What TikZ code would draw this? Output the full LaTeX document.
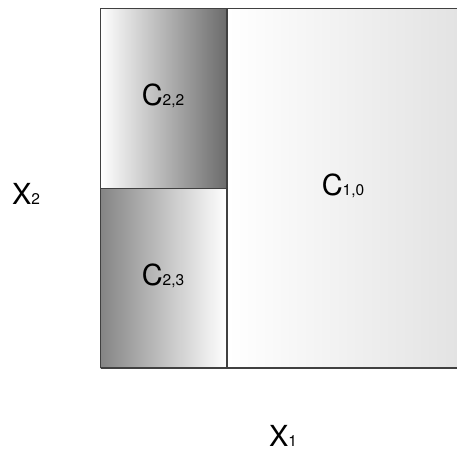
\documentclass[tikz,border=0pt]{standalone}
\usepackage{fontspec}
\setmainfont{TeX Gyre Heros}
\begin{document}
\begin{tikzpicture}[x=1pt,y=-1pt,
  edge/.style={draw=black!75, line width=1.4pt},
  lbl/.style={font=\fontsize{29}{30}\selectfont, inner sep=0pt},
]
\useasboundingbox (0,0) rectangle (456,460);
\definecolor{darkA}{gray}{0.42}
\definecolor{darkB}{gray}{0.52}
\definecolor{lightC}{gray}{0.89}
\shade[left color=white, right color=darkA] (100.5,8.5) rectangle (227,188.5);
\shade[left color=darkB, right color=white] (100.5,188.5) rectangle (227,368);
\shade[left color=white, right color=lightC] (227,8.5) rectangle (458,368);
\coordinate (tl) at (100.5,8.5);
\coordinate (bl) at (100.5,368);
\coordinate (tr) at (458,8.5);
\coordinate (br) at (458,368);
\coordinate (mt) at (227,8.5);
\coordinate (mb) at (227,368);
\coordinate (ml) at (100.5,188.5);
\coordinate (mm) at (227,188.5);
\draw[edge] (tl) -- (tr);
\draw[edge] (bl) -- (br);
\draw[edge] (tl) -- (bl);
\draw[edge] (mt) -- (mb);
\draw[edge] (ml) -- (mm);
\newcommand{\sbs}[1]{{\fontsize{15.5}{16}\selectfont #1}}
\node[lbl] (c22) at (163,96) {C\sbs{2,2}};
\node[lbl] (c23) at (163,276) {C\sbs{2,3}};
\node[lbl] (c10) at (343,186) {C\sbs{1,0}};
\node[lbl] (x2) at (26,194) {X\sbs{2}};
\node[lbl] (x1) at (283,436) {X\sbs{1}};
\end{tikzpicture}
\end{document}
